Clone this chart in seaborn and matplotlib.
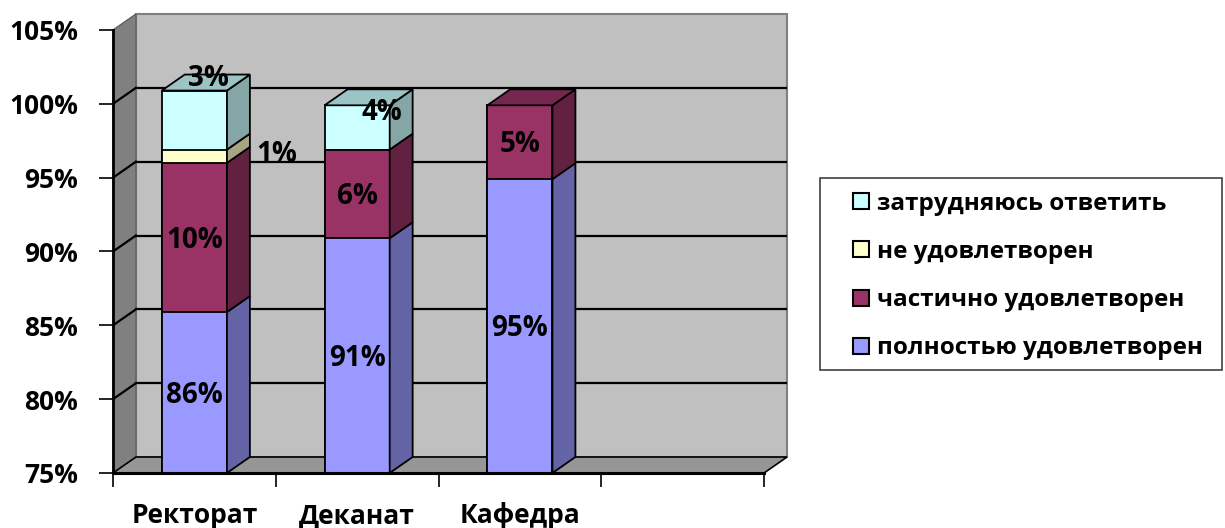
import numpy as np
import pandas as pd
import matplotlib
matplotlib.use('Agg')
import matplotlib.pyplot as plt
import matplotlib.colors as mcolors
from matplotlib.patches import Polygon, Patch, Rectangle
import seaborn as sns

# Data (stack heights in %, labels as printed)
categories = ['Ректорат', 'Деканат', 'Кафедра']
series_names = ['полностью удовлетворен', 'частично удовлетворен',
                'не удовлетворен', 'затрудняюсь ответить']
full_sat = [85.9, 90.9, 94.9]
part_sat = [10.1, 6.0, 5.0]
not_sat = [0.9, 0.0, 0.0]
hard_say = [4.0, 3.0, 0.0]
labels_full = ['86%', '91%', '95%']
labels_part = ['10%', '6%', '5%']
labels_not = ['1%', '', '']
labels_hard = ['3%', '4%', '']
yticks = [75, 80, 85, 90, 95, 100, 105]

colors = ['#9999FF', '#993366', '#FFFFCC', '#CCFFFF']
SIDE, TOP = 0.65, 0.77
YMIN, YMAX = 75, 105
DX, DY = 0.141, 1.083   # depth of the 3d box in data units

plt.rcParams['font.family'] = ['Open Sans', 'DejaVu Sans']
plt.rcParams['font.weight'] = 'bold'

series = [full_sat, part_sat, not_sat, hard_say]
seg_labels = [labels_full, labels_part, labels_not, labels_hard]
cum = np.cumsum(np.array(series), axis=0)
df = pd.DataFrame({'category': categories})
for k in range(4):
    df[f'cum{k}'] = cum[k]

fig = plt.figure(figsize=(12.25, 5.28), dpi=100)
ax = fig.add_axes([113 / 1225, 55 / 528, 674 / 1225, 459 / 528])

# overlapping cumulative bars = stacked front faces
for k in [3, 2, 1, 0]:
    sns.barplot(data=df, x='category', y=f'cum{k}', order=categories,
                color=colors[k], saturation=1, width=0.4, errorbar=None,
                edgecolor='black', linewidth=1.3, zorder=3, ax=ax)

x0s = [p.get_x() for p in ax.patches[-3:]]
bw = ax.patches[-1].get_width()

# walls and floor
xl, xr = -0.5, 3.5
ax.add_patch(Polygon([(xl + DX, YMIN + DY), (xr + DX, YMIN + DY), (xr + DX, YMAX + DY),
                      (xl + DX, YMAX + DY)], closed=True, fc='#C0C0C0', ec='#808080',
                     lw=1.5, zorder=0.5, clip_on=False))
ax.add_patch(Polygon([(xl, YMIN), (xl + DX, YMIN + DY), (xl + DX, YMAX + DY), (xl, YMAX)],
                     closed=True, fc='#808080', ec='#606060', lw=1, zorder=0.6, clip_on=False))
ax.add_patch(Polygon([(xl, YMIN), (xr, YMIN), (xr + DX, YMIN + DY), (xl + DX, YMIN + DY)],
                     closed=True, fc='#969696', ec='black', lw=1.2, zorder=0.7, clip_on=False))
for v in yticks[1:-1]:
    ax.plot([xl + DX, xr + DX], [v + DY, v + DY], color='black', lw=1.6, zorder=0.8)
    ax.plot([xl, xl + DX], [v, v + DY], color='black', lw=1.6, zorder=0.8)

# 3d side and top faces
seg_bottoms = np.zeros_like(cum)
for i in range(len(categories)):
    x0 = x0s[i]
    x1 = x0 + bw
    bottom = YMIN
    top_k = None
    for k in range(4):
        h = series[k][i]
        seg_bottoms[k][i] = max(bottom, YMIN)
        if h <= 0:
            continue
        b = max(bottom, YMIN)
        t = cum[k][i]
        rgb = np.array(mcolors.to_rgb(colors[k]))
        ax.add_patch(Polygon([(x1, b), (x1 + DX, b + DY), (x1 + DX, t + DY), (x1, t)],
                             closed=True, fc=rgb * SIDE, ec='black', lw=1.3, zorder=3))
        bottom = t
        top_k = k
    t = cum[top_k][i]
    rgb = np.array(mcolors.to_rgb(colors[top_k]))
    ax.add_patch(Polygon([(x0, t), (x1, t), (x1 + DX, t + DY), (x0 + DX, t + DY)],
                         closed=True, fc=rgb * TOP, ec='black', lw=1.3, zorder=3,
                         clip_on=False))

# data labels (offsets in points for the small segments)
offsets = {(0, 3): (10, 30), (1, 3): (18, 11), (0, 2): (59, 1)}
for k in range(4):
    for i in range(len(categories)):
        txt = seg_labels[k][i]
        if not txt:
            continue
        yc = (seg_bottoms[k][i] + cum[k][i]) / 2
        xc = x0s[i] + bw / 2
        dx, dy = offsets.get((i, k), (0, -2))
        ax.annotate(txt, (xc, yc), xytext=(dx, dy), textcoords='offset points',
                    ha='center', va='center', fontsize=20, fontweight='bold',
                    color='black', zorder=6, annotation_clip=False)

ax.set_xlim(xl, xr + DX)
ax.set_ylim(YMIN, YMAX + DY)
ax.set_yticks(yticks)
ax.set_yticklabels([f'{v}%' for v in yticks], fontsize=19, fontweight='bold')
ax.tick_params(axis='y', length=10, width=1.2, pad=15, color='black')
ax.set_xticks([-0.5, 0.5, 1.5, 2.5, 3.5])
ax.set_xticklabels([])
ax.set_xticks([0, 1, 2], minor=True)
ax.set_xticklabels(categories, minor=True, fontsize=19, fontweight='bold')
ax.tick_params(axis='x', which='major', length=10, width=1.2, color='black')
ax.tick_params(axis='x', which='minor', length=0, pad=21)
ax.set_xlabel('')
ax.set_ylabel('')
for s in ['top', 'right']:
    ax.spines[s].set_visible(False)
ax.spines['left'].set_bounds(YMIN, YMAX)
ax.spines['bottom'].set_bounds(xl, xr)
ax.spines['left'].set_linewidth(2)
ax.spines['bottom'].set_linewidth(2.2)
ax.spines['left'].set_zorder(4)
ax.spines['bottom'].set_zorder(4)
ax.patch.set_alpha(0)

# legend frame drawn separately (wider left margin, as in the original)
fig.patches.append(Rectangle((820 / 1225, 1 - 370 / 528), 402 / 1225, 192 / 528,
                             transform=fig.transFigure, fc='white', ec='#404040',
                             lw=1.2, zorder=1))
handles = [Patch(facecolor=colors[k], edgecolor='black', lw=1.5) for k in [3, 2, 1, 0]]
leg = fig.legend(handles, [series_names[k] for k in [3, 2, 1, 0]], loc='center left',
                 bbox_to_anchor=(853 / 1225, 1 - 276 / 528), borderaxespad=0,
                 frameon=False, prop={'size': 17.5, 'weight': 'bold'},
                 handlelength=0.65, handleheight=0.65,
                 handletextpad=0.35, labelspacing=1.0, borderpad=0)

fig.savefig('out.png', dpi=100)
